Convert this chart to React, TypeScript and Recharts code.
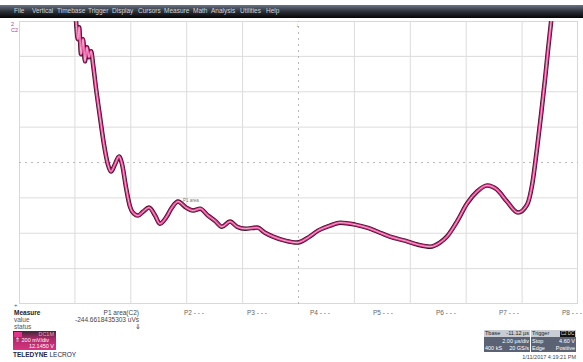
import React from "react";
import { LineChart, Line, XAxis, YAxis, CartesianGrid, ReferenceLine } from "recharts";

// C2 trace, time in µs (2 µs/div, 10 div), amplitude in mV (200 mV/div)
const timeUs = [
  2.04, 2.11, 2.15, 2.22, 2.29, 2.36, 2.43, 2.5, 2.58, 2.65, 2.76, 2.9, 3.04, 3.18, 3.29, 3.43,
  3.58, 3.69, 3.83, 3.97, 4.11, 4.26, 4.44, 4.65, 4.87, 5.04, 5.26, 5.47, 5.69, 5.98, 6.23, 6.48,
  6.76, 7.01, 7.26, 7.55, 7.8, 8.09, 8.52, 8.8, 9.09, 9.52, 9.95, 10.34, 10.7, 11.13, 11.49, 12.02,
  12.45, 12.92, 13.27, 13.81, 14.28, 14.71, 15.06, 15.31, 15.67, 16.03, 16.39, 16.75, 17.1, 17.46,
  17.85, 18.18, 18.36, 18.53, 18.68, 18.82, 18.93, 19.04,
];
const c2mV = [
  800, 697, 765, 612, 697, 572, 652, 595, 629, 555, 414, 255, 102, -11, -51, -11,
  34, -11, -142, -249, -289, -300, -278, -255, -300, -346, -312, -255, -221, -255, -272, -261,
  -300, -329, -363, -334, -363, -374, -368, -397, -419, -442, -453, -425, -385, -357, -340, -351,
  -368, -397, -419, -442, -465, -476, -453, -419, -334, -232, -164, -130, -153, -221,
  -283, -238, -125, 74, 272, 470, 640, 800,
];

const xTicks = [0, 2, 4, 6, 8, 12, 14, 16, 18, 20];
const yTicks = [-800, -600, -400, -200, 200, 400, 600, 800];
const menuItems = ["File", "Vertical", "Timebase", "Trigger", "Display", "Cursors", "Measure", "Math", "Analysis", "Utilities", "Help"];
const menuX = [14, 32, 57, 88, 112, 138, 164, 193, 211, 240, 266];
const paramLabels = ["P2", "P3", "P4", "P5", "P6", "P7", "P8"];
const paramX = [184, 247, 310, 373, 436, 499, 562];

const data = timeUs.map((t, i) => ({ t, v: c2mV[i] }));

const font = "'Liberation Sans', Arial, sans-serif";

export default function App() {
  return (
    <div style={{ position: "absolute", left: 0, top: 0, width: 583, height: 362, background: "#fff", overflow: "hidden", fontFamily: font }}>
      {/* menu bar */}
      <div style={{ position: "absolute", left: 0, top: 5, width: 583, height: 13, background: "linear-gradient(#6b7384, #2b2f37 50%, #050505)" }}>
        {menuItems.map((m, i) => (
          <span key={m} style={{ position: "absolute", left: menuX[i], top: 2, fontSize: 6.5, color: "#cfd2d8", whiteSpace: "nowrap" }}>{m}</span>
        ))}
      </div>

      <div style={{ position: "absolute", left: 11, top: 21, fontSize: 5.5, color: "#c04080", lineHeight: "6px" }}>2<br />C2</div>

      {/* plot */}
      <div style={{ position: "absolute", left: 19, top: 21, width: 559, height: 283, border: "1px solid #d4d4d4", boxSizing: "border-box" }} />
      <div style={{ position: "absolute", left: 19, top: 21 }}>
        <LineChart width={559} height={283} data={data} margin={{ top: 0, right: 0, bottom: 0, left: 0 }}>
          <XAxis type="number" dataKey="t" domain={[0, 20]} ticks={xTicks} hide />
          <YAxis type="number" domain={[-800, 800]} ticks={yTicks} hide allowDataOverflow />
          <CartesianGrid stroke="#dcdcdc" strokeWidth={1} />
          <ReferenceLine y={0} stroke="#b8b8b8" strokeDasharray="2 4" />
          <ReferenceLine x={10} stroke="#b8b8b8" strokeDasharray="2 4" />
          <Line type="monotone" dataKey="v" stroke="#4a0d2b" strokeWidth={4.5} dot={false} isAnimationActive={false} />
          <Line type="monotone" dataKey="v" stroke="#d9378a" strokeWidth={2.8} dot={false} isAnimationActive={false} />
          <Line type="monotone" dataKey="v" stroke="#f7b3d4" strokeWidth={1} dot={false} isAnimationActive={false} />
        </LineChart>
      </div>
      <div style={{ position: "absolute", left: 296, top: 22, fontSize: 6, color: "#888" }}>↓</div>
      <div style={{ position: "absolute", left: 183, top: 198, fontSize: 4.5, color: "#777" }}>P1 area</div>

      {/* measure table */}
      <div style={{ position: "absolute", left: 14, top: 302, fontSize: 6, color: "#555" }}>+</div>
      <div style={{ position: "absolute", left: 14, top: 309, fontSize: 6.5, fontWeight: "bold", color: "#222" }}>Measure</div>
      <div style={{ position: "absolute", left: 14, top: 316, fontSize: 6.5, color: "#555" }}>value</div>
      <div style={{ position: "absolute", left: 14, top: 323, fontSize: 6.5, color: "#555" }}>status</div>
      <div style={{ position: "absolute", right: 583 - 139, top: 309, fontSize: 6.5, color: "#444", whiteSpace: "nowrap" }}>P1 area(C2)</div>
      <div style={{ position: "absolute", right: 583 - 139, top: 316, fontSize: 6.5, color: "#444", whiteSpace: "nowrap" }}>-244.6618435303 uVs</div>
      <div style={{ position: "absolute", left: 135, top: 323, fontSize: 6.5, color: "#444" }}>⇓</div>
      {paramLabels.map((p, i) => (
        <div key={p} style={{ position: "absolute", left: paramX[i], top: 309, fontSize: 6.5, color: "#666", whiteSpace: "nowrap" }}>{p} - - -</div>
      ))}

      {/* channel badge */}
      <div style={{ position: "absolute", left: 13, top: 331, width: 43, height: 19, background: "linear-gradient(#3a2a35, #b0286a 40%, #d8357f)", fontSize: 5.5, color: "#fff" }}>
        <div style={{ position: "absolute", left: 1, top: 1, width: 8, height: 5, background: "#e0358a" }} />
        <div style={{ position: "absolute", right: 2, top: 0, color: "#e8a0c0" }}>DC1M</div>
        <div style={{ position: "absolute", left: 2, top: 6 }}>⇑ 200 mV/div</div>
        <div style={{ position: "absolute", right: 2, top: 12 }}>12.1450 V</div>
      </div>
      <div style={{ position: "absolute", left: 13, top: 351, fontSize: 6.5, color: "#1a2a4a", whiteSpace: "nowrap" }}>
        <b>TELEDYNE</b> LECROY
      </div>

      {/* timebase / trigger boxes */}
      <div style={{ position: "absolute", left: 484, top: 330, width: 46, height: 22, background: "#5a6274", fontSize: 5.5, color: "#fff" }}>
        <div style={{ position: "absolute", left: 0, top: 0, width: 46, height: 7, background: "#c9ccd2", color: "#222" }}>
          <span style={{ position: "absolute", left: 1, top: 0 }}>Tbase</span>
          <span style={{ position: "absolute", right: 1, top: 0 }}>-11.12 µs</span>
        </div>
        <span style={{ position: "absolute", right: 1, top: 8 }}>2.00 µs/div</span>
        <span style={{ position: "absolute", left: 1, top: 15 }}>400 kS</span>
        <span style={{ position: "absolute", right: 1, top: 15 }}>20 GS/s</span>
      </div>
      <div style={{ position: "absolute", left: 531, top: 330, width: 45, height: 22, background: "#5a6274", fontSize: 5.5, color: "#fff" }}>
        <div style={{ position: "absolute", left: 0, top: 0, width: 45, height: 7, background: "#c9ccd2", color: "#222" }}>
          <span style={{ position: "absolute", left: 1, top: 0 }}>Trigger</span>
          <span style={{ position: "absolute", right: 1, top: 0.5, width: 15, height: 6, background: "#111", color: "#ddd", fontSize: 4.5, textAlign: "center" }}>C2 DC</span>
        </div>
        <span style={{ position: "absolute", left: 1, top: 8 }}>Stop</span>
        <span style={{ position: "absolute", right: 1, top: 8 }}>4.60 V</span>
        <span style={{ position: "absolute", left: 1, top: 15 }}>Edge</span>
        <span style={{ position: "absolute", right: 1, top: 15 }}>Positive</span>
      </div>
      <div style={{ position: "absolute", right: 583 - 576, top: 354, fontSize: 5.5, color: "#444", whiteSpace: "nowrap" }}>1/11/2017 4:19:21 PM</div>
    </div>
  );
}
